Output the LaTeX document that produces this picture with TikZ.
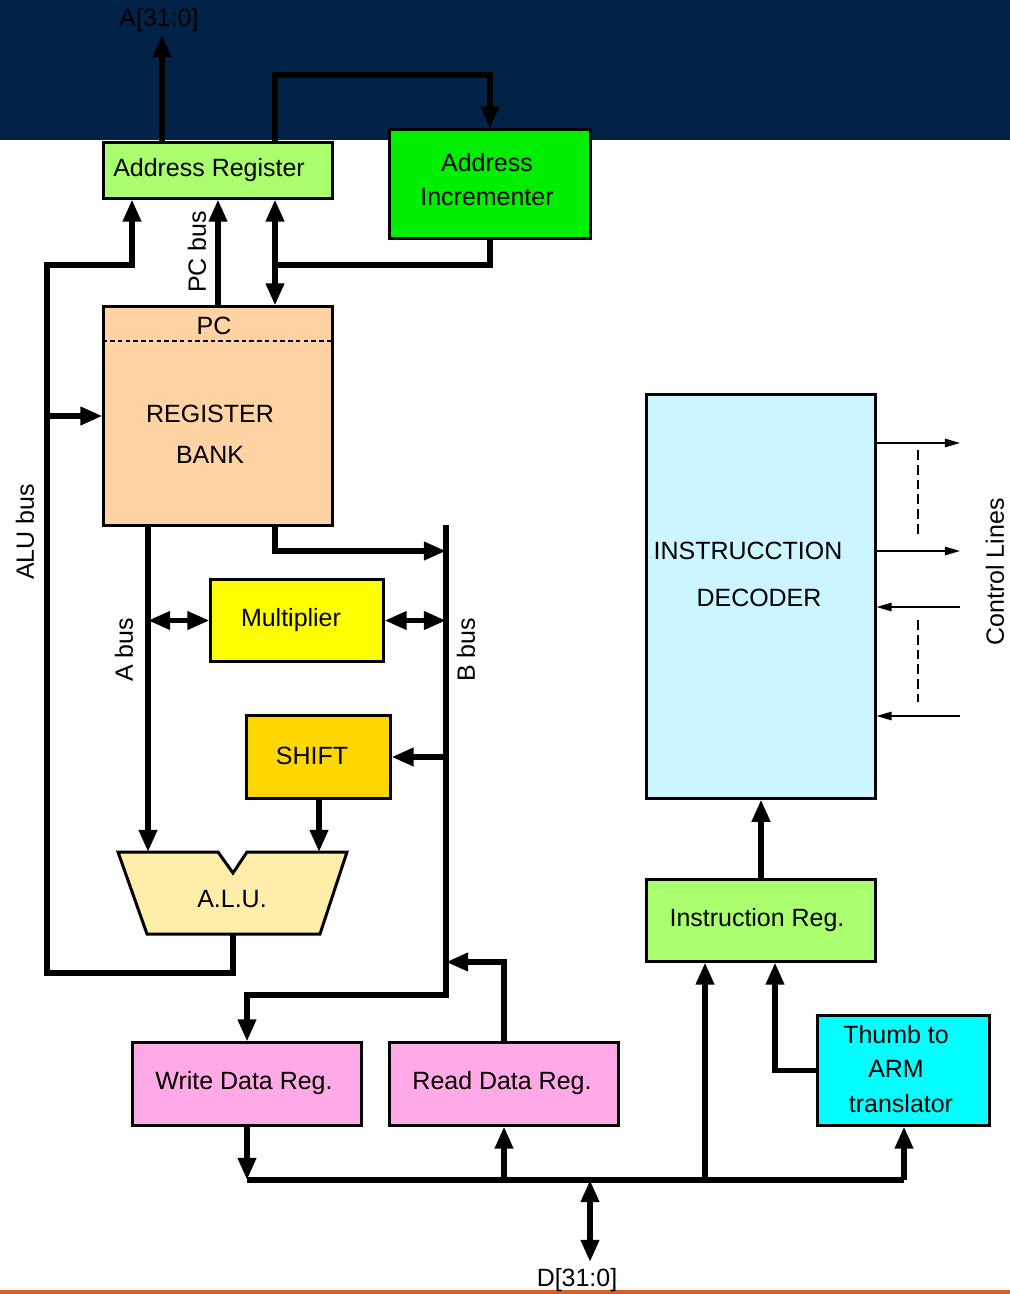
\documentclass[tikz,border=0pt]{standalone}
\usepackage{fontspec}
\setmainfont{Liberation Sans}
\usetikzlibrary{arrows.meta}
\definecolor{bandblue}{RGB}{2,35,72}
\definecolor{bandorange}{RGB}{224,92,30}
\definecolor{regfill}{RGB}{170,255,110}
\definecolor{incfill}{RGB}{0,238,0}
\definecolor{bankfill}{RGB}{255,211,163}
\definecolor{mulfill}{RGB}{255,255,0}
\definecolor{shiftfill}{RGB}{255,215,0}
\definecolor{alufill}{RGB}{255,237,170}
\definecolor{datafill}{RGB}{255,170,230}
\definecolor{decfill}{RGB}{204,245,255}
\definecolor{thumbfill}{RGB}{0,255,255}
\begin{document}
\begin{tikzpicture}[x=0.01cm,y=-0.01cm,
  every node/.style={font=\fontsize{7.1}{8.5}\selectfont},
  regbox/.style={draw,line width=0.85pt,inner sep=0pt},
  busline/.style={line width=1.5pt},
  bustip/.style={busline,-{Triangle[length=6.3pt,width=5pt]}},
  busboth/.style={busline,{Triangle[length=6.3pt,width=5pt]}-{Triangle[length=6.3pt,width=5pt]}},
  ctrl/.style={line width=0.45pt,-{Triangle[length=4.3pt,width=2.4pt]}}]

\useasboundingbox (0,0) rectangle (1010,1294);
%BACKGROUND
\fill[bandblue] (0,0) rectangle (1010,140);
\fill[bandorange] (0,1290) rectangle (1010,1294);

%BOXES
\node[regbox,fill=regfill,minimum width=2.28cm,minimum height=0.55cm] (addrreg) at (218,170.5) {};
\node (addrregtxt) at (209,170) {Address Register};
\node[regbox,fill=incfill,minimum width=2.0cm,minimum height=1.08cm] (addrinc) at (490,184) {};
\node[align=center,font=\fontsize{7.1}{9.7}\selectfont] (addrinctxt) at (487,180) {Address\\Incrementer};
\node[regbox,fill=bankfill,minimum width=2.28cm,minimum height=2.18cm] (regbank) at (218,416) {};
\draw[dashed,line width=0.4pt,dash pattern=on 1.3pt off 0.9pt] (regbank.west |- 0,341) -- (regbank.east |- 0,341);
\node (pclbl) at (214,326) {PC};
\node[align=center,font=\fontsize{7.1}{11.7}\selectfont] (banklbl) at (210,434) {REGISTER\\BANK};
\node[regbox,fill=mulfill,minimum width=1.72cm,minimum height=0.81cm] (mult) at (297,620.5) {};
\node (multtxt) at (291,620) {Multiplier};
\node[regbox,fill=shiftfill,minimum width=1.43cm,minimum height=0.82cm] (shift) at (318.5,757) {};
\node (shifttxt) at (312,756) {SHIFT};
% ALU
\filldraw[fill=alufill,line width=0.85pt] (118,852) -- (218,852) -- (233,873) -- (247,852)
  -- (347,852) -- (320,934) -- (147,934) -- cycle;
\node (alu) at (232,899) {A.L.U.};
\coordinate (aluA) at (148,852);
\coordinate (aluB) at (319,852);
\coordinate (aluout) at (233,934);
\node[regbox,fill=datafill,minimum width=2.28cm,minimum height=0.82cm] (wdr) at (247,1084) {};
\node (wdrtxt) at (244,1083) {Write Data Reg.};
\node[regbox,fill=datafill,minimum width=2.28cm,minimum height=0.82cm] (rdr) at (504,1084) {};
\node (rdrtxt) at (502,1083) {Read Data Reg.};
\node[regbox,fill=regfill,minimum width=2.28cm,minimum height=0.81cm] (ireg) at (761,920.5) {};
\node (iregtxt) at (757,920) {Instruction Reg.};
\node[regbox,fill=thumbfill,minimum width=1.71cm,minimum height=1.09cm] (thumb) at (903.5,1070.5) {};
\node[align=center,font=\fontsize{7.1}{9.9}\selectfont] (thumbtxt) at (896,1069) {Thumb to\\ARM\\\hspace*{0.1cm}translator};
\node[regbox,fill=decfill,minimum width=2.28cm,minimum height=4.03cm] (decoder) at (761,596.5) {};
\node[align=center,font=\fontsize{7.1}{13.4}\selectfont] (dectxt) at (748,574) {INSTRUCCTION\\\hspace*{0.22cm}DECODER};

%ADDRESS SIDE
\coordinate (aout) at (162,35);
\node (alabel) at (159,20) {A[31:0]};
\draw[bustip] (addrreg.north -| aout) -- (aout);
\draw[bustip] (addrreg.north -| 275,0) -- (275,75) -| (addrinc.north);
\draw[busline] (addrinc.south) |- (275,265);
\draw[busboth] (addrreg.south -| 275,0) -- (regbank.north -| 275,0);
\draw[bustip] (regbank.north -| 218,0) -- (addrreg.south -| 218,0);
\node[rotate=90] (pcbus) at (197,252) {PC bus};

%ALU BUS
\coordinate (alubustop) at (47,265);
\coordinate (alubusbot) at (47,973);
\draw[bustip] (aluout) |- (alubusbot) -- (alubustop) -| (addrreg.south -| 132,0);
\draw[bustip] (alubustop |- regbank.west) -- (regbank.west);
\node[rotate=90] (alubus) at (25,532) {ALU bus};

%A BUS and B BUS
\coordinate (bbustop) at (446,525);
\coordinate (bbusbot) at (446,995);
\draw[bustip] (regbank.south -| aluA) -- (aluA);
\node[rotate=90] (abus) at (124,650) {A bus};
\draw[bustip] (bbustop) -- (bbusbot) -| (wdr.north);
\draw[bustip] (regbank.south -| 275,0) |- (bbustop |- 0,551);
\node[rotate=90] (bbus) at (466,650) {B bus};
\draw[busboth] (aluA |- mult.west) -- (mult.west);
\draw[busboth] (mult.east) -- (bbustop |- mult.east);
\draw[bustip] (bbustop |- shift.east) -- (shift.east);
\draw[bustip] (shift.south -| aluB) -- (aluB);
\draw[bustip] (rdr.north) |- (bbustop |- 0,962);

%DATA BUS
\coordinate (dbusl) at (247,1180);
\coordinate (dbusr) at (904,1180);
\coordinate (dout) at (590,1262);
\draw[bustip] (wdr.south) -- (dbusl);
\draw[busline] (dbusl) -- (dbusr);
\draw[bustip] (rdr.south |- dbusl) -- (rdr.south);
\draw[bustip] (dbusl -| 705,0) -- (ireg.south -| 705,0);
\draw[bustip] (dbusr) -- (dbusr |- thumb.south);
\draw[busboth] (dbusl -| dout) -- (dout);
\node (dlabel) at (577,1280) {D[31:0]};
\draw[bustip] (thumb.west) -| (ireg.south -| 775,0);
\draw[bustip] (ireg.north) -- (decoder.south);

%CONTROL LINES
\draw[ctrl] (decoder.east |- 0,443) -- (960,443);
\draw[ctrl] (decoder.east |- 0,551) -- (960,551);
\draw[ctrl] (960,607) -- (decoder.east |- 0,607);
\draw[ctrl] (960,716) -- (decoder.east |- 0,716);
\draw[line width=0.7pt,dash pattern=on 2.8pt off 1.4pt] (918,450) -- (918,538);
\draw[line width=0.7pt,dash pattern=on 2.8pt off 1.4pt] (918,620) -- (918,702);
\node[rotate=90] (ctrllbl) at (995,572) {Control Lines};

\end{tikzpicture}
\end{document}
